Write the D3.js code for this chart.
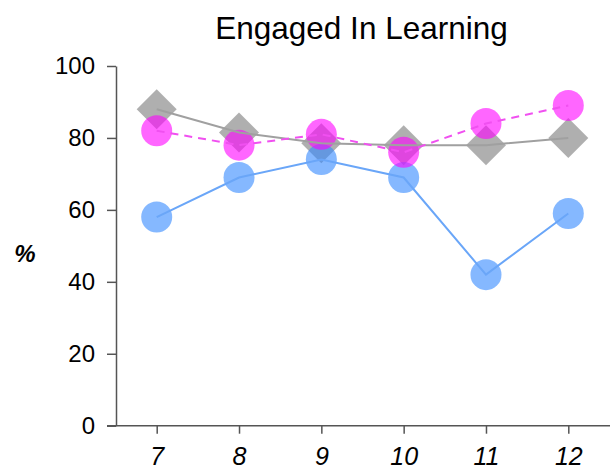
<!DOCTYPE html>
<html><head><meta charset="utf-8">
<script src="https://cdn.jsdelivr.net/npm/d3@7"></script>
<style>body{margin:0;background:#fff}svg{display:block}text{font-family:"Liberation Sans",Arial,Helvetica,sans-serif}</style>
</head><body><svg id="c" width="612" height="473"></svg>
<script>
const grades = [7, 8, 9, 10, 11, 12];
const graySeries = [88, 81.5, 78.5, 78, 78, 80];
const magentaSeries = [82, 78, 81, 76, 84, 89];
const blueSeries = [58, 69, 74, 69, 42, 59];
const yTicks = [0, 20, 40, 60, 80, 100];
const title = "Engaged In Learning";
const yLabel = "%";

const svg = d3.select("#c");
const x = d3.scaleLinear().domain([7, 12]).range([156.7, 568.3]);
const y = d3.scaleLinear().domain([0, 100]).range([425.7, 66]);

// axes
const yAxis = d3.axisLeft(y).tickValues(yTicks).tickSize(9).tickPadding(12).tickSizeOuter(0);
const gy = svg.append("g").attr("transform", "translate(116,0)").call(yAxis);
gy.select(".domain").attr("stroke", "#555").attr("stroke-width", 1.5);
gy.selectAll(".tick line").attr("stroke", "#555").attr("stroke-width", 1.5);
gy.selectAll(".tick text").attr("font-size", 24).attr("fill", "#000").attr("font-family", "Liberation Sans, Arial, sans-serif");

const xAxis = d3.axisBottom(x).tickValues(grades).tickSize(8).tickPadding(14).tickSizeOuter(0).tickFormat(d3.format("d"));
const gx = svg.append("g").attr("transform", "translate(0,425.7)").call(xAxis);
gx.select(".domain").remove();
gx.append("line").attr("x1", 107).attr("x2", 610).attr("stroke", "#555").attr("stroke-width", 1.5);
gx.selectAll(".tick line").attr("stroke", "#555").attr("stroke-width", 1.5);
gx.selectAll(".tick text").attr("font-size", 25).attr("font-style", "italic").attr("fill", "#000").attr("font-family", "Liberation Sans, Arial, sans-serif");

// title & y label
svg.append("text").attr("x", 361.5).attr("y", 39).attr("text-anchor", "middle").attr("font-size", 31.5).text(title);
svg.append("text").attr("x", 25).attr("y", 262).attr("text-anchor", "middle").attr("font-size", 24).attr("font-weight", "bold").attr("font-style", "italic").text(yLabel);

const line = d3.line().x((d, i) => x(grades[i])).y(d => y(d));

// markers
svg.append("g").selectAll("path").data(graySeries).join("path")
  .attr("d", d3.symbol().type(d3.symbolSquare).size(800))
  .attr("transform", (d, i) => `translate(${x(grades[i])},${y(d)}) rotate(45)`)
  .attr("fill", "#a6a6a6").attr("opacity", 0.9);
svg.append("g").selectAll("circle").data(blueSeries).join("circle")
  .attr("cx", (d, i) => x(grades[i])).attr("cy", d => y(d)).attr("r", 15.5)
  .attr("fill", "#3388ff").attr("opacity", 0.6);
svg.append("g").selectAll("circle").data(magentaSeries).join("circle")
  .attr("cx", (d, i) => x(grades[i])).attr("cy", d => y(d)).attr("r", 15.5)
  .attr("fill", "#ff00ff").attr("opacity", 0.6);

// lines
svg.append("path").datum(graySeries).attr("d", line).attr("fill", "none").attr("stroke", "#a0a0a0").attr("stroke-width", 2);
svg.append("path").datum(blueSeries).attr("d", line).attr("fill", "none").attr("stroke", "#6aa6f8").attr("stroke-width", 2);
svg.append("path").datum(magentaSeries).attr("d", line).attr("fill", "none").attr("stroke", "#f050f0").attr("stroke-width", 2).attr("stroke-dasharray", "8,6");
</script></body></html>
